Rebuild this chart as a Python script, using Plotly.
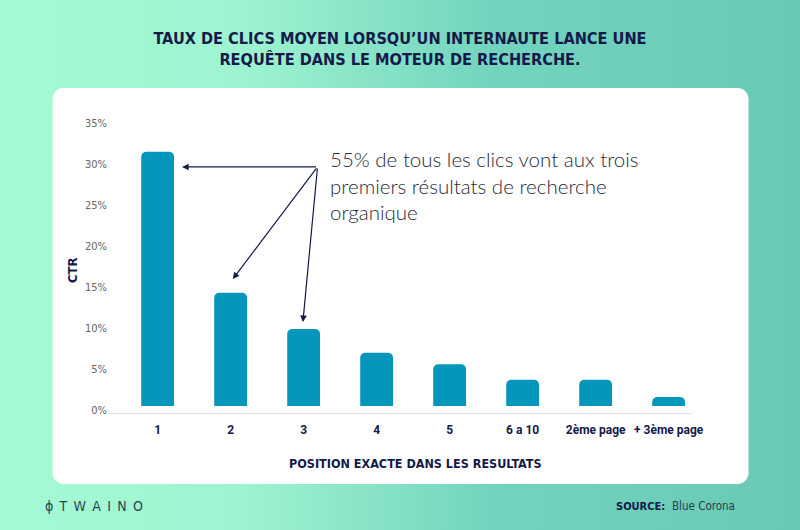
import base64
import plotly.graph_objects as go

# valeurs (CTR en %)
positions = ["1", "2", "3", "4", "5", "6 a 10", "2ème page", "+ 3ème page"]
ctr = [31.0, 13.8, 9.4, 6.5, 5.1, 3.2, 3.2, 1.1]
y_ticks = [0, 5, 10, 15, 20, 25, 30, 35]
y_labels = [f"{v}%" for v in y_ticks]

W, H = 800, 530
L, R, T, B = 108, 108, 119, 117
NAVY = "#141a4a"
BAR = "#0597bb"
NARROW = "Liberation Sans Narrow, DejaVu Sans Condensed, Roboto, sans-serif"

# fond : dégradé + panneau blanc arrondi
svg = f"""<svg xmlns='http://www.w3.org/2000/svg' width='{W}' height='{H}' viewBox='0 0 {W} {H}'>
<defs><linearGradient id='g' x1='0' y1='0' x2='1' y2='0'>
<stop offset='0' stop-color='#a3fad4'/><stop offset='0.3' stop-color='#9ef4d0'/>
<stop offset='0.62' stop-color='#72d3be'/><stop offset='1' stop-color='#69c9b6'/>
</linearGradient></defs>
<rect width='{W}' height='{H}' fill='url(#g)'/>
<rect x='52.5' y='88' width='696' height='396' rx='11' ry='11' fill='#ffffff'/>
</svg>"""
bg_src = "data:image/svg+xml;base64," + base64.b64encode(svg.encode()).decode()

pw, ph = W - L - R, H - T - B


def px(x):
    return (x - L) / pw


def py(y):
    return (H - B - y) / ph


fig = go.Figure(go.Bar(x=positions, y=ctr, width=0.45,
                       marker=dict(color=BAR, line=dict(width=0)), hoverinfo="skip"))

fig.update_layout(
    width=W, height=H,
    margin=dict(l=L, r=R, t=T, b=B, pad=0, autoexpand=False),
    paper_bgcolor="rgba(0,0,0,0)", plot_bgcolor="rgba(0,0,0,0)",
    barcornerradius=5, showlegend=False,
    title=dict(text="TAUX DE CLICS MOYEN LORSQU’UN INTERNAUTE LANCE UNE<br>REQUÊTE DANS LE MOTEUR DE RECHERCHE.",
               x=0.5, xanchor="center", y=1 - 44 / H, yanchor="middle",
               font=dict(family=NARROW, size=16.2, color=NAVY, weight="bold")),
    images=[dict(source=bg_src, xref="paper", yref="paper",
                 x=-L / pw, y=1 + T / ph, sizex=W / pw, sizey=H / ph,
                 sizing="stretch", layer="below", xanchor="left", yanchor="top")],
)

fig.update_xaxes(range=[-0.68, 7.32], showline=True, linecolor="#dde3ea", linewidth=1,
                 showgrid=False, zeroline=False, ticks="", ticklabelstandoff=6,
                 tickangle=0, automargin=False,
                 tickfont=dict(family="Roboto", size=12, color=NAVY, weight="bold"))
fig.update_yaxes(range=[-0.85, 35], tickvals=y_ticks, ticktext=y_labels, showgrid=False,
                 zeroline=False, showline=False, ticks="", ticklabelshift=4,
                 automargin=False,
                 tickfont=dict(family=NARROW, size=11, color="#666666"))

ann = []
# flèches vers les trois premiers résultats
tail = (2.19, 29.15)
for hx, hy in [(0.334, 29.15), (1.03, 15.49), (1.99, 10.24)]:
    ann.append(dict(x=hx, y=hy, ax=tail[0], ay=tail[1], xref="x", yref="y",
                    axref="x", ayref="y", text="", showarrow=True, arrowhead=2,
                    arrowsize=1.1, arrowwidth=1.2, arrowcolor=NAVY, standoff=0))
ann.append(dict(x=px(328), y=py(145), xref="paper", yref="paper",
                xanchor="left", yanchor="top", align="left", showarrow=False,
                text="55% de tous les clics vont aux trois<br>premiers résultats de recherche<br>organique",
                font=dict(family="Lato", size=20.5, color="#2a2a38", weight=300)))
ann.append(dict(x=px(72), y=py(270), xref="paper", yref="paper",
                xanchor="center", yanchor="middle",
                text="CTR", textangle=-90, showarrow=False,
                font=dict(family=NARROW, size=13, color=NAVY, weight="bold")))
ann.append(dict(x=px(415), y=py(463), xref="paper", yref="paper",
                xanchor="center", yanchor="middle",
                text="POSITION EXACTE DANS LES RESULTATS", showarrow=False,
                font=dict(family=NARROW, size=12.5, color=NAVY, weight="bold")))
ann.append(dict(x=px(43), y=py(506), xref="paper", yref="paper",
                xanchor="left", yanchor="middle", text="\u2002".join("ϕTWAINO"),
                showarrow=False, font=dict(family=NARROW, size=14, color="#2d4453")))
ann.append(dict(x=px(667), y=py(506), xref="paper", yref="paper",
                xanchor="right", yanchor="middle", text="SOURCE:", showarrow=False,
                font=dict(family=NARROW, size=11, color=NAVY, weight="bold")))
ann.append(dict(x=px(670), y=py(506), xref="paper", yref="paper",
                xanchor="left", yanchor="middle", text="Blue Corona", showarrow=False,
                font=dict(family=NARROW, size=11.5, color="#2d3a4a")))
fig.update_layout(annotations=ann)

fig.write_html("out.html", config={"displayModeBar": False},
               post_script="document.body.style.margin='0';")
